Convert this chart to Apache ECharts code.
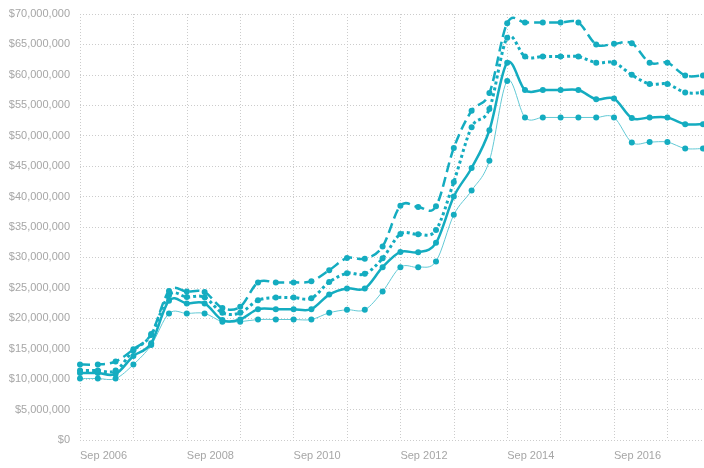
<!DOCTYPE html>
<html>
<head>
<meta charset="utf-8">
<script src="https://cdn.jsdelivr.net/npm/echarts@6/dist/echarts.min.js"></script>
<style>
html,body{margin:0;padding:0;background:#fff;}
#chart{width:704px;height:468px;}
</style>
</head>
<body>
<div id="chart"></div>
<script>
var categories = ['Sep 2006','Jan 2007','May 2007','Sep 2007','Jan 2008','May 2008','Sep 2008','Jan 2009','May 2009','Sep 2009','Jan 2010','May 2010','Sep 2010','Jan 2011','May 2011','Sep 2011','Jan 2012','May 2012','Sep 2012','Jan 2013','May 2013','Sep 2013','Jan 2014','May 2014','Sep 2014','Jan 2015','May 2015','Sep 2015','Jan 2016','May 2016','Sep 2016','Jan 2017','May 2017','Sep 2017','Jan 2018','May 2018'];

var seriesDashed = [12400000,12400000,12900000,14900000,17400000,24500000,24400000,24300000,21700000,21900000,25900000,25900000,25900000,26100000,27900000,29900000,29800000,31800000,38500000,38300000,38400000,48000000,54100000,57000000,68500000,68600000,68600000,68600000,68600000,65000000,65100000,65200000,62000000,62000000,59900000,59900000];

var seriesDotted = [11400000,11400000,11400000,14700000,17250000,23800000,23500000,23450000,20900000,20900000,22950000,23400000,23400000,23300000,25950000,27400000,27300000,29850000,33850000,33800000,34500000,42400000,51400000,54400000,66100000,63000000,63000000,63000000,63000000,62000000,62000000,60000000,58500000,58500000,57100000,57100000];

var seriesSolid = [11000000,11000000,10850000,13800000,15900000,22900000,22450000,22450000,19700000,19800000,21500000,21500000,21500000,21500000,23900000,24900000,24900000,28400000,30900000,30850000,32400000,40000000,44700000,50900000,62000000,57500000,57500000,57500000,57500000,56000000,56100000,52900000,53000000,53000000,51900000,51900000];

var seriesThin = [10100000,10100000,10100000,12400000,15600000,20800000,20800000,20800000,19450000,19450000,19800000,19800000,19800000,19800000,20900000,21400000,21400000,24400000,28400000,28400000,29350000,37000000,41000000,45900000,59000000,53000000,53000000,53000000,53000000,53000000,53000000,48900000,48950000,48950000,47900000,47900000];

var TEAL = '#14acc0';
var gridLine = {show:true, lineStyle:{color:'#cccccc', width:1, type:[1,2]}};
var labelStyle = {color:'#a6a6a6', fontSize:11, fontFamily:'Arial, "Liberation Sans", sans-serif'};

function money(v){
  return '$' + String(Math.round(v)).replace(/\B(?=(\d{3})+(?!\d))/g, ',');
}

// Cardinal (Catmull-Rom) spline through the points given by the axes
function splinePath(pts){
  var n = pts.length, d = 'M' + pts[0][0] + ' ' + pts[0][1];
  for (var i = 0; i < n - 1; i++) {
    var p0 = pts[Math.max(i - 1, 0)], p1 = pts[i], p2 = pts[i + 1], p3 = pts[Math.min(i + 2, n - 1)];
    var c1x = p1[0] + (p2[0] - p0[0]) / 6, c1y = p1[1] + (p2[1] - p0[1]) / 6;
    var c2x = p2[0] - (p3[0] - p1[0]) / 6, c2y = p2[1] - (p3[1] - p1[1]) / 6;
    d += ' C' + c1x + ' ' + c1y + ' ' + c2x + ' ' + c2y + ' ' + p2[0] + ' ' + p2[1];
  }
  return d;
}

function curveSeries(data, stroke, width, dash){
  return {
    type:'custom', silent:true, clip:false, z:2, data:[0],
    renderItem:function(params, api){
      var pts = data.map(function(v, i){ return api.coord([i, v]); });
      return {
        type:'path',
        shape:{pathData: splinePath(pts)},
        style:{fill:'none', stroke:stroke, lineWidth:width, lineDash:dash || null}
      };
    },
    animation:false
  };
}

function pointSeries(data){
  return {
    type:'line', data:data, z:3,
    symbol:'circle', symbolSize:6, showSymbol:true,
    itemStyle:{color:TEAL},
    lineStyle:{opacity:0, width:0},
    emphasis:{disabled:true},
    animation:false
  };
}

var chart = echarts.init(document.getElementById('chart'), null, {renderer:'canvas'});
chart.setOption({
  animation:false,
  grid:{left:80, right:1, top:14, bottom:28, containLabel:false},
  xAxis:{
    type:'category', data:categories, boundaryGap:false,
    axisLine:{show:false}, axisTick:{show:false},
    axisLabel:Object.assign({interval:5, align:'left', margin:10}, labelStyle),
    splitLine:Object.assign({interval:2}, gridLine)
  },
  yAxis:{
    type:'value', min:0, max:70000000, interval:5000000,
    axisLine:{show:false}, axisTick:{show:false},
    axisLabel:Object.assign({margin:10, formatter:money}, labelStyle),
    splitLine:gridLine
  },
  series:[
    curveSeries(seriesThin, '#62c9d5', 1, null),
    curveSeries(seriesSolid, TEAL, 2.5, null),
    curveSeries(seriesDotted, TEAL, 3, [3,3]),
    curveSeries(seriesDashed, TEAL, 2.5, [10,5]),
    pointSeries(seriesThin),
    pointSeries(seriesSolid),
    pointSeries(seriesDotted),
    pointSeries(seriesDashed)
  ]
});
</script>
</body>
</html>
